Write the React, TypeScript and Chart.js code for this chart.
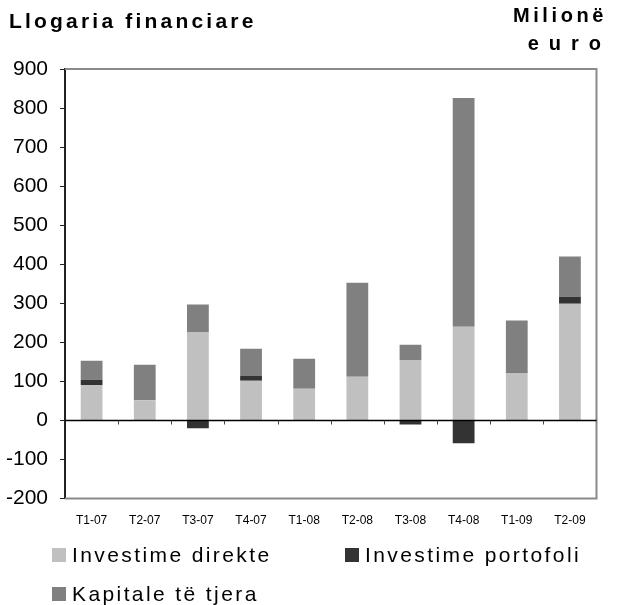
import { useEffect, useRef } from 'react';
import { Chart, registerables } from 'chart.js';

Chart.register(...registerables);

const FONT = "'Liberation Sans', Arial, Helvetica, sans-serif";

const categories = ['T1-07', 'T2-07', 'T3-07', 'T4-07', 'T1-08', 'T2-08', 'T3-08', 'T4-08', 'T1-09', 'T2-09'];
const investimeDirekte = [91, 52, 225, 102, 81, 112, 155, 240, 122, 299];
const investimePortofoli = [13, 0, -20, 12, 0, 0, -10, -58, 2, 18];
const kapitaleTeTjera = [49, 91, 72, 70, 77, 241, 39, 586, 132, 103];

const seriesLabels = ['Investime direkte', 'Investime portofoli', 'Kapitale të tjera'];
const seriesColors = ['#c0c0c0', '#333333', '#808080'];
const seriesValues = [investimeDirekte, investimePortofoli, kapitaleTeTjera];

const yMin = -200;
const yMax = 900;
const yStep = 100;

const titleText = 'Llogaria financiare';
const unitLines = ['Milionë', 'euro'];

const frameAndZero = {
  id: 'frameAndZero',
  afterDatasetsDraw(chart: any) {
    const { ctx, chartArea: a, scales } = chart;
    const x = scales.x;
    const y = scales.y;
    ctx.save();
    // plot frame (top, right, bottom)
    ctx.strokeStyle = '#8a8a8a';
    ctx.lineWidth = 2;
    ctx.beginPath();
    ctx.moveTo(a.left, a.top);
    ctx.lineTo(a.right, a.top);
    ctx.lineTo(a.right, a.bottom);
    ctx.lineTo(a.left, a.bottom);
    ctx.stroke();
    // zero line
    const y0 = Math.round(y.getPixelForValue(0)) + 0.5;
    ctx.strokeStyle = '#000';
    ctx.lineWidth = 1.5;
    ctx.beginPath();
    ctx.moveTo(a.left, y0);
    ctx.lineTo(a.right, y0);
    ctx.stroke();
    // category tick marks on zero line
    ctx.strokeStyle = '#444';
    ctx.lineWidth = 1;
    ctx.beginPath();
    for (let i = 1; i < categories.length; i++) {
      const xb = Math.round((x.getPixelForValue(i - 1) + x.getPixelForValue(i)) / 2) + 0.5;
      ctx.moveTo(xb, y0);
      ctx.lineTo(xb, y0 + 4);
    }
    ctx.stroke();
    ctx.restore();
  },
};

export default function App() {
  const canvasRef = useRef<HTMLCanvasElement | null>(null);

  useEffect(() => {
    const canvas = canvasRef.current;
    if (!canvas) return;
    const chart = new Chart(canvas, {
      type: 'bar',
      data: {
        labels: categories,
        datasets: seriesValues.map((vals, i) => ({
          label: seriesLabels[i],
          data: vals,
          backgroundColor: seriesColors[i],
          borderWidth: 0,
          barPercentage: 0.41,
          categoryPercentage: 1,
        })),
      },
      options: {
        animation: false,
        responsive: false,
        devicePixelRatio: 1,
        layout: { padding: { top: 69, bottom: 62, left: 0, right: 20.5 } },
        plugins: {
          legend: { display: false },
          title: { display: false },
          tooltip: { enabled: false },
        },
        scales: {
          x: {
            stacked: true,
            grid: { display: false, drawTicks: false },
            border: { display: false },
            ticks: { color: '#000', font: { family: FONT, size: 12 }, padding: 15, maxRotation: 0 },
          },
          y: {
            stacked: true,
            min: yMin,
            max: yMax,
            ticks: { stepSize: yStep, color: '#000', font: { family: FONT, size: 21 }, padding: 12 },
            grid: { drawOnChartArea: false, color: 'rgba(0,0,0,0)', tickColor: '#222', tickLength: 5 },
            border: { display: true, color: '#222', width: 2 },
          },
        },
      },
      plugins: [frameAndZero],
    });
    return () => chart.destroy();
  }, []);

  const textBase: any = { position: 'absolute', fontFamily: FONT, color: '#000', whiteSpace: 'nowrap' };

  return (
    <div style={{ position: 'absolute', left: 0, top: 0, width: 617, height: 605, background: '#fff', overflow: 'hidden' }}>
      <canvas ref={canvasRef} width={623} height={605} style={{ position: 'absolute', left: -6, top: 0, width: 623, height: 605 }} />
      <div style={{ ...textBase, left: 9, top: 10, fontSize: 21, lineHeight: '21px', fontWeight: 'bold', letterSpacing: '3.2px' }}>{titleText}</div>
      <div style={{ ...textBase, right: 10, top: 5, fontSize: 20, lineHeight: '20px', fontWeight: 'bold', letterSpacing: '3.6px', textAlign: 'right' }}>{unitLines[0]}</div>
      <div style={{ ...textBase, right: 6, top: 33, fontSize: 20, lineHeight: '20px', fontWeight: 'bold', letterSpacing: '10px', textAlign: 'right' }}>{unitLines[1]}</div>
      <div style={{ position: 'absolute', left: 52, top: 544, display: 'grid', gridTemplateColumns: '293px 293px', rowGap: 18 }}>
        {seriesLabels.map((lab, i) => (
          <div key={lab} style={{ display: 'flex', alignItems: 'center', fontFamily: FONT, fontSize: 21, lineHeight: '21px', letterSpacing: '2.4px', color: '#000', whiteSpace: 'nowrap' }}>
            <span style={{ display: 'inline-block', width: 14, height: 14, background: seriesColors[i], marginRight: 6 }} />
            <span>{lab}</span>
          </div>
        ))}
      </div>
    </div>
  );
}
